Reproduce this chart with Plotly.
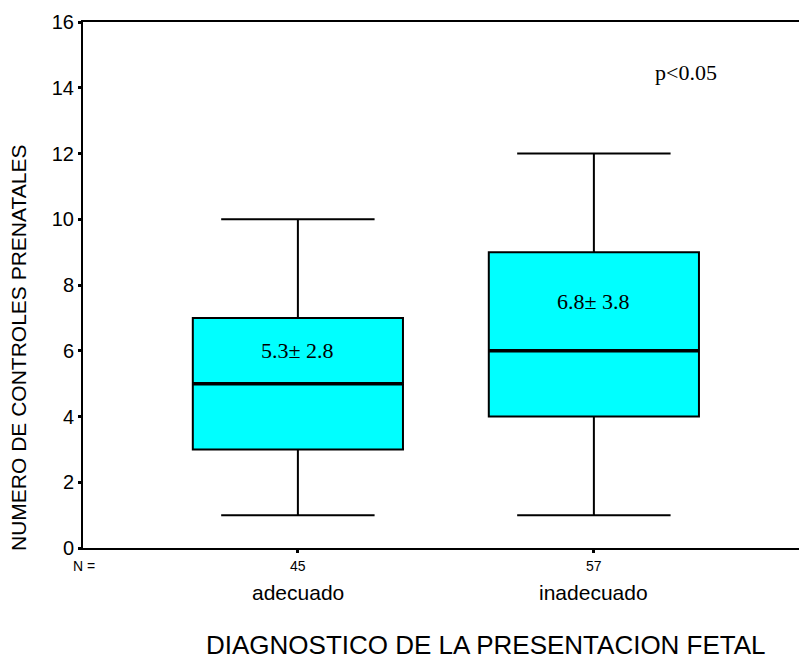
import plotly.graph_objects as go

# Summary statistics per group (number of prenatal check-ups)
groups = ["adecuado", "inadecuado"]
n_counts = [45, 57]
q1 = [3, 4]
medians = [5, 6]
q3 = [7, 9]
lower_whisker = [1, 1]
upper_whisker = [10, 12]
mean_sd_labels = ["5.3\u00b1 2.8", "6.8\u00b1 3.8"]
label_y = [6, 7.5]
y_ticks = [0, 2, 4, 6, 8, 10, 12, 14, 16]

BOX_W = 0.71

fig = go.Figure()

fig.add_trace(go.Box(
    x=groups,
    q1=q1, median=medians, q3=q3,
    lowerfence=lower_whisker, upperfence=upper_whisker,
    width=BOX_W, whiskerwidth=0.73,
    fillcolor="#00FFFF",
    line=dict(color="black", width=2),
    boxpoints=False, showlegend=False, hoverinfo="skip",
))

# heavier median bars drawn on top of the boxes
for i, g in enumerate(groups):
    fig.add_shape(type="line", xref="x", yref="y", layer="above",
                  x0=i - BOX_W / 2, x1=i + BOX_W / 2, y0=medians[i], y1=medians[i],
                  line=dict(color="black", width=3.5))

serif = "Liberation Serif, Times New Roman, serif"
sans = "Liberation Sans, Arial, sans-serif"

annotations = []
for i, g in enumerate(groups):
    annotations.append(dict(x=i, y=label_y[i], xref="x", yref="y", text=mean_sd_labels[i],
                            font=dict(family=serif, size=22, color="black")))
    annotations.append(dict(x=i, y=566, xref="x", yref="paper", text=str(n_counts[i]),
                            font=dict(family=sans, size=14, color="black")))
    annotations.append(dict(x=i, y=592, xref="x", yref="paper", text=g,
                            font=dict(family=sans, size=21, color="black")))

annotations.append(dict(x=84, y=566, xref="paper", yref="paper", text="N =",
                        font=dict(family=sans, size=14, color="black")))
annotations.append(dict(x=686, y=72, xref="paper", yref="paper", text="p<0.05",
                        font=dict(family=serif, size=22, color="black")))
annotations.append(dict(x=18, y=348, xref="paper", yref="paper", text="NUMERO DE CONTROLES PRENATALES",
                        textangle=-90, font=dict(family=sans, size=21, color="black")))
annotations.append(dict(x=486, y=645, xref="paper", yref="paper", text="DIAGNOSTICO DE LA PRESENTACION FETAL",
                        font=dict(family=sans, size=26, color="black")))

# convert pixel-positioned annotations to paper coordinates
W, H = 799, 666
L, R, T, B = 83, 0, 22, 118
pw, ph = W - L - R, H - T - B
for a in annotations:
    a["showarrow"] = False
    a["xanchor"] = "center"
    a["yanchor"] = "middle"
    if a["xref"] == "paper":
        a["x"] = (a["x"] - L) / pw
    if a["yref"] == "paper":
        a["y"] = (H - B - a["y"]) / ph

fig.update_layout(
    width=W, height=H,
    margin=dict(l=L, r=R, t=T, b=B, pad=0),
    plot_bgcolor="white", paper_bgcolor="white",
    annotations=annotations,
    xaxis=dict(
        type="category", range=[-0.726, 1.693],
        showline=True, linecolor="black", linewidth=2, mirror=True,
        ticks="outside", ticklen=3, tickwidth=3, tickcolor="black",
        showticklabels=False, showgrid=False, zeroline=False,
    ),
    yaxis=dict(
        range=[0, 16], tickvals=y_ticks,
        showline=True, linecolor="black", linewidth=2,
        ticks="outside", ticklen=3, tickwidth=3, tickcolor="black",
        tickfont=dict(family=sans, size=20, color="black"),
        showgrid=False, zeroline=False,
    ),
)

fig.write_html("out.html")
